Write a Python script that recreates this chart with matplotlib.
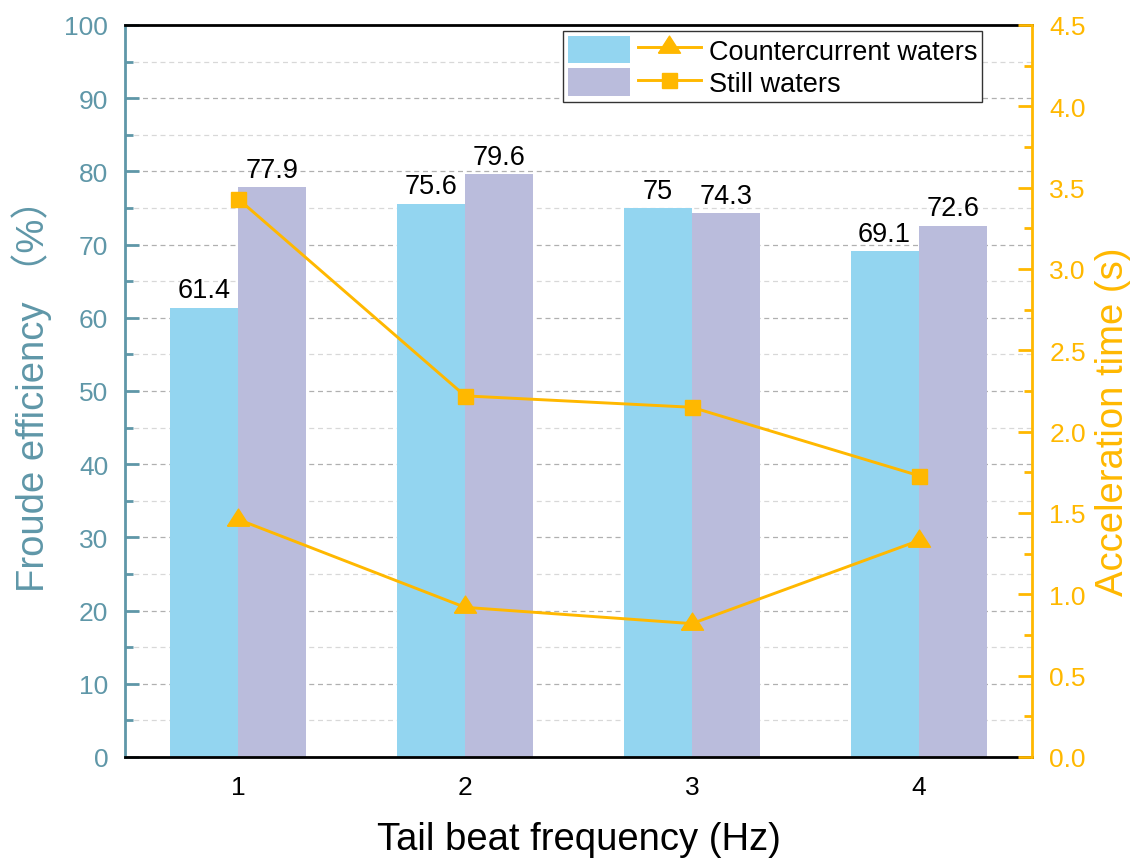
import matplotlib
matplotlib.use("Agg")
import matplotlib.pyplot as plt
from matplotlib.ticker import MultipleLocator
from matplotlib.legend_handler import HandlerTuple
from matplotlib.patches import Patch
from matplotlib.lines import Line2D
import numpy as np

plt.rcParams['font.family'] = ['Liberation Sans', 'Noto Sans CJK SC', 'DejaVu Sans']

# ---- data ----
freq = [1, 2, 3, 4]
freq_labels = ["1", "2", "3", "4"]
eff_counter = [61.4, 75.6, 75, 69.1]
eff_still = [77.9, 79.6, 74.3, 72.6]
acc_counter = [1.46, 0.92, 0.82, 1.33]
acc_still = [3.43, 2.22, 2.15, 1.73]
series_names = ["Countercurrent waters", "Still waters"]

# ---- style ----
c_blue = "#93D5F0"
c_purple = "#BABCDC"
c_orange = "#FFB800"
c_teal = "#5F97A8"

fig = plt.figure(figsize=(11.41, 8.62), dpi=100)
ax = fig.add_axes([125/1141, (862-758)/862, (1032-125)/1141, (758-26)/862])
ax2 = ax.twinx()

x = np.array(freq, dtype=float)
w = 0.3
b1 = ax.bar(x - w/2, eff_counter, width=w, color=c_blue, zorder=2)
b2 = ax.bar(x + w/2, eff_still, width=w, color=c_purple, zorder=2)
ax.bar_label(b1, labels=[f"{v:g}" for v in eff_counter], padding=3, fontsize=19.5, color="black")
ax.bar_label(b2, labels=[f"{v:g}" for v in eff_still], padding=3, fontsize=19.5, color="black")

ax.set_xlim(0.5, 4.5)
ax.set_ylim(0, 100)
ax.set_xticks(x)
ax.set_xticklabels(freq_labels)
ax.yaxis.set_major_locator(MultipleLocator(10))
ax.yaxis.set_minor_locator(MultipleLocator(5))
ax.set_axisbelow(True)
ax.grid(which="major", axis="y", color="#b0b0b0", linestyle=(0, (4, 3)), linewidth=0.9)
ax.grid(which="minor", axis="y", color="#d8d8d8", linestyle=(0, (4, 3)), linewidth=0.9)

ax.tick_params(axis="y", which="major", direction="in", length=10, width=2, colors=c_teal,
               labelsize=19, pad=12)
ax.tick_params(axis="y", which="minor", direction="in", length=6, width=2, colors=c_teal)
ax.tick_params(axis="x", which="major", direction="in", length=10, width=2, colors="black",
               labelsize=19, pad=13)

ax.spines["left"].set_color(c_teal)
ax.spines["left"].set_linewidth(2)
ax.spines["bottom"].set_color("black")
ax.spines["bottom"].set_linewidth(2)
ax.spines["top"].set_color("black")
ax.spines["top"].set_linewidth(2)
ax.spines["right"].set_visible(False)

ax.set_ylabel("Froude efficiency （%）", fontsize=27.5, color=c_teal)
ax.yaxis.set_label_coords(-0.081, 0.508)
ax.set_xlabel("Tail beat frequency (Hz)", fontsize=27.5, color="black", labelpad=16)

# custom triangle marker whose centroid sits on the data point
tri = [(-1, -0.517), (1, -0.517), (0, 1.033), (-1, -0.517)]
l1, = ax2.plot(x, acc_counter, color=c_orange, linewidth=2.1, marker=tri, markersize=16.4,
               zorder=3)
l2, = ax2.plot(x, acc_still, color=c_orange, linewidth=2.1, marker="s", markersize=10.8,
               zorder=3)
ax2.set_ylim(0, 4.5)
ax2.yaxis.set_major_locator(MultipleLocator(0.5))
ax2.yaxis.set_minor_locator(MultipleLocator(0.25))
ax2.yaxis.set_major_formatter(matplotlib.ticker.FormatStrFormatter("%.1f"))
ax2.tick_params(axis="y", which="major", direction="in", length=10, width=2, colors=c_orange,
                labelsize=19, pad=12.5)
ax2.tick_params(axis="y", which="minor", direction="in", length=6, width=2, colors=c_orange)
for s in ["left", "top", "bottom"]:
    ax2.spines[s].set_visible(False)
ax2.spines["right"].set_color(c_orange)
ax2.spines["right"].set_linewidth(2)
ax2.set_ylabel("Acceleration time (s)", fontsize=27.5, color=c_orange)
ax2.yaxis.set_label_coords(1.07, 0.459)

h1 = (Patch(facecolor=c_blue, edgecolor="none"),
      Line2D([], [], color=c_orange, linewidth=2.1, marker=tri, markersize=16.4))
h2 = (Patch(facecolor=c_purple, edgecolor="none"),
      Line2D([], [], color=c_orange, linewidth=2.1, marker="s", markersize=10.8))
leg = ax2.legend([h1, h2], series_names, handler_map={tuple: HandlerTuple(ndivide=None, pad=0.3)},
                 loc="upper right", bbox_to_anchor=(0.945, 0.992), borderaxespad=0,
                 fontsize=19.5, handlelength=4.9, handleheight=1.2, handletextpad=0.3,
                 labelspacing=0.12, borderpad=0.18, fancybox=False, framealpha=1,
                 edgecolor="#333333")
leg.get_frame().set_linewidth(1.0)

fig.savefig("out.png", dpi=100)
